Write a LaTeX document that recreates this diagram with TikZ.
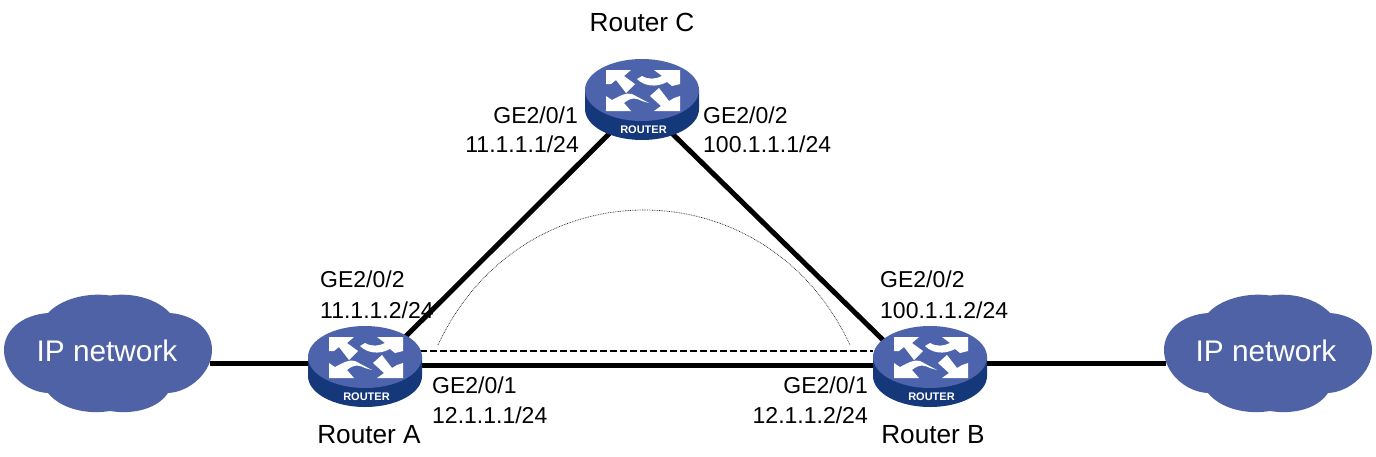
\documentclass[tikz,border=0pt]{standalone}
\usepackage{fontspec}
\setmainfont{Liberation Sans}
\definecolor{rtop}{HTML}{4D64AC}
\definecolor{rside}{HTML}{15387A}
\definecolor{cloudc}{HTML}{4F62A5}
\tikzset{
  x=1pt,y=-1pt,
  link/.style={line width=5pt,black},
  tunnel/.style={line width=2pt,black,dash pattern=on 6.6pt off 3.4pt},
  lsp/.style={line width=0.7pt,black!85,dash pattern=on 0.8pt off 0.9pt},
  lbl/.style={inner sep=0,font=\fontsize{23}{23}\selectfont,black},
  rname/.style={inner sep=0,anchor=base,font=\fontsize{26.2}{26.2}\selectfont,black},
  cloudtxt/.style={inner sep=0,text=white,font=\fontsize{29.8}{29.8}\selectfont},
  routerbox/.style={inner sep=0,minimum width=114pt,minimum height=81pt},
  pics/router/.style={code={
    \fill[rside] (-57,31) -- (-57,50) arc[start angle=180,end angle=360,x radius=57,y radius=-31] -- (57,31) -- cycle;
    \fill[rtop] (0,31) ellipse[x radius=57,y radius=31];
    \fill[white] (-36,11) -- (-11,11) -- (-18,17) -- (-7,25) -- (-16,34) -- (-26,21) -- (-31,25) -- (-36,25) -- cycle;
    \fill[white] (38,11) -- (12,11) -- (20,17) .. controls (14,20) and (7,21) .. (0,17) -- (-5,20) .. controls (2,27) and (14,29) .. (25,23) -- (30,27) -- (38,25) -- cycle;
    \fill[white] (-36,52) -- (-36,37) -- (-30,41) .. controls (-22,37) and (-16,33) .. (-10,35) -- (7,44) -- (0,42) .. controls (-4,40) and (-10,37) .. (-18,44) -- (-11,52) -- cycle;
    \fill[white] (38,52) -- (12,52) -- (19,47) -- (8,37) -- (17,29) -- (27,42) -- (32,39) -- (38,37) -- cycle;
    \node[inner sep=0,text=white,font=\fontsize{11}{11}\bfseries\selectfont] at (1.5,70.5) {ROUTER};
  }},
  pics/cloudshape/.style={code={
    \fill[cloudc] (48,313) .. controls (60,300) and (85,292) .. (110,295.5)
      .. controls (135,292) and (158,300) .. (170,313)
      .. controls (195,315) and (212,330) .. (212,350)
      .. controls (212,372) and (190,392) .. (168,393)
      .. controls (158,408) and (135,415) .. (110,411)
      .. controls (85,415) and (60,408) .. (48,393)
      .. controls (25,392) and (4,372) .. (4,350)
      .. controls (4,330) and (22,315) .. (48,313) -- cycle;
  }}
}
\begin{document}
\begin{tikzpicture}
\useasboundingbox (0,0) rectangle (1376,456);
% link end points
\node[routerbox] (ra) at (365,366.5) {};
\node[routerbox] (rb) at (930,366.5) {};
\node[routerbox] (rc) at (642,99.5) {};
\coordinate (ac) at (365,377);
\coordinate (ca) at (642,101);
\coordinate (cb) at (642,104);
\coordinate (bc) at (930,386);
\coordinate (ah) at (365,365);
\coordinate (bh) at (930,365);
\coordinate (at) at (420,351);
\coordinate (bt) at (873,351);
\coordinate (as) at (438,345);
\coordinate (bs) at (850,345);
% clouds
\path (0,0) pic {cloudshape};
\path (1160,0) pic {cloudshape};
\node[cloudtxt] (cl) at (107,351) {IP network};
\node[cloudtxt] (cr) at (1266,351) {IP network};
\coordinate (clh) at (210,363);
\coordinate (crh) at (1166,363);
% connectors
\draw[link] (clh) -- (clh -| ah);
\draw[link] (ah) -- (bh);
\draw[link] (bh |- crh) -- (crh);
\draw[link] (ac) -- (ca);
\draw[link] (cb) -- (bc);
\draw[tunnel] (at) -- (bt);
\draw[lsp] (as) .. controls (522,165) and (766,165) .. (bs);
% routers
\path (365,326) pic {router};
\path (930,326) pic {router};
\path (642,59) pic {router};
% labels
\node[rname] (na) at (369,443) {Router A};
\node[rname] (nb) at (933,443) {Router B};
\node[rname] (nc) at (642,31) {Router C};
\node[lbl,anchor=base east] (l1) at (578,123) {GE2/0/1};
\node[lbl,anchor=base east] (l2) at (579,152) {11.1.1.1/24};
\node[lbl,anchor=base west] (l3) at (703,123) {GE2/0/2};
\node[lbl,anchor=base west] (l4) at (703,152) {100.1.1.1/24};
\node[lbl,anchor=base west] (l5) at (320,287) {GE2/0/2};
\node[lbl,anchor=base west] (l6) at (320,318) {11.1.1.2/24};
\node[lbl,anchor=base west] (l7) at (432,393) {GE2/0/1};
\node[lbl,anchor=base west] (l8) at (432,423) {12.1.1.1/24};
\node[lbl,anchor=base west] (l9) at (880,287) {GE2/0/2};
\node[lbl,anchor=base west] (l10) at (880,318) {100.1.1.2/24};
\node[lbl,anchor=base east] (l11) at (868,393) {GE2/0/1};
\node[lbl,anchor=base east] (l12) at (868,423) {12.1.1.2/24};
\end{tikzpicture}
\end{document}
